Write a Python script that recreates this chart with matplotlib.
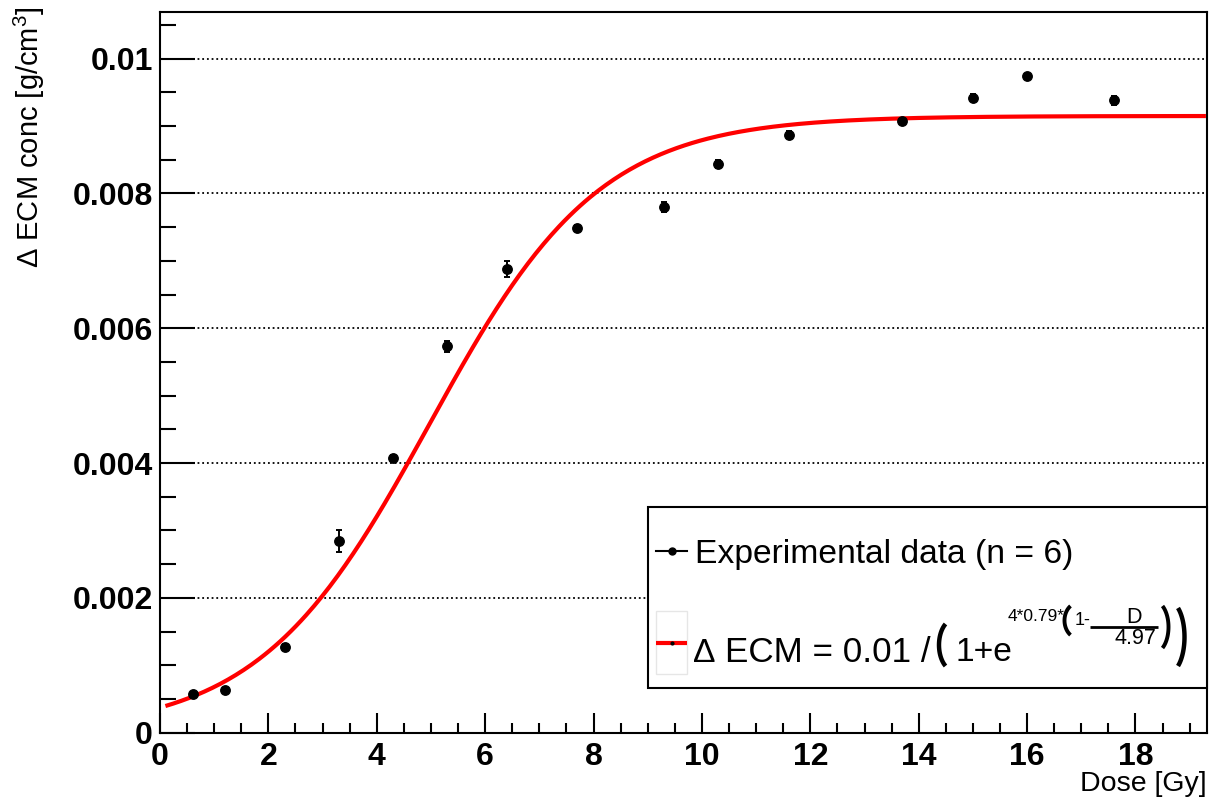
import numpy as np
import matplotlib
matplotlib.use("Agg")
import matplotlib.pyplot as plt
from matplotlib.lines import Line2D
from matplotlib.patches import Rectangle
from matplotlib.ticker import MultipleLocator

plt.rcParams["font.family"] = ["Liberation Sans", "DejaVu Sans"]
plt.rcParams["mathtext.fontset"] = "custom"
plt.rcParams["mathtext.rm"] = "Liberation Sans"
plt.rcParams["mathtext.it"] = "Liberation Sans"
plt.rcParams["mathtext.bf"] = "Liberation Sans:bold"

# Measured extracellular-matrix concentration change vs. dose
dose = [0.6, 1.2, 2.3, 3.3, 4.3, 5.3, 6.4, 7.7, 9.3, 10.3, 11.6, 13.7, 15.0, 16.0, 17.6]
ecm = [0.00057, 0.00063, 0.00127, 0.00284, 0.00407, 0.00573, 0.00688, 0.00749,
       0.00780, 0.00844, 0.00887, 0.00907, 0.00942, 0.00974, 0.00938]
ecm_err = [0.00003, 0.00003, 0.00004, 0.00016, 0.00005, 0.00008, 0.00012, 0.00004,
           0.00007, 0.00006, 0.00005, 0.00004, 0.00005, 0.00004, 0.00007]

# Logistic fit parameters
fit_amp = 0.00915
fit_slope = 0.79
fit_d50 = 4.97
fit_range = (0.1, 19.3)

x_ticks = [0, 2, 4, 6, 8, 10, 12, 14, 16, 18]
x_tick_labels = ["0", "2", "4", "6", "8", "10", "12", "14", "16", "18"]
y_ticks = [0, 0.002, 0.004, 0.006, 0.008, 0.01]
y_tick_labels = ["0", "0.002", "0.004", "0.006", "0.008", "0.01"]

data_label = "Experimental data (n = 6)"
fit_label_parts = ["\u0394", "ECM = 0.01 /", "1+e", "4*0.79*", "1-", "D", "4.97"]

W, H = 1213, 799
fig = plt.figure(figsize=(W / 100, H / 100), dpi=100)
fig.patch.set_facecolor("white")

ax_l, ax_r, ax_t, ax_b = 160, 1207, 11.5, 732.7
ax = fig.add_axes([ax_l / W, 1 - ax_b / H, (ax_r - ax_l) / W, (ax_b - ax_t) / H])
ax.set_xlim(0, 19.32)
ax.set_ylim(0, 0.0107)

# Fit curve
xf = np.linspace(fit_range[0], fit_range[1], 400)
yf = fit_amp / (1 + np.exp(4 * fit_slope * (1 - xf / fit_d50)))
ax.plot(xf, yf, color="#ff0000", lw=3, zorder=3, solid_capstyle="butt")

# Data with error bars
ax.errorbar(dose, ecm, yerr=ecm_err, fmt="o", color="black", ms=6.8,
            elinewidth=1.4, capsize=2.3, capthick=1.4, zorder=4)

# Axes styling
for sp in ax.spines.values():
    sp.set_linewidth(1.5)
ax.set_xticks(x_ticks, x_tick_labels, fontweight="bold", fontsize=23)
ax.set_yticks(y_ticks, y_tick_labels, fontweight="bold", fontsize=23)
ax.xaxis.set_minor_locator(MultipleLocator(0.5))
ax.yaxis.set_minor_locator(MultipleLocator(0.0005))
ax.tick_params(axis="x", which="major", direction="in", length=14.5, width=1.5, pad=7)
ax.tick_params(axis="x", which="minor", direction="in", length=7.2, width=1.5)
ax.tick_params(axis="y", which="major", direction="in", length=25, width=1.5, pad=5)
ax.tick_params(axis="y", which="minor", direction="in", length=11.5, width=1.5)
ax.set_axisbelow(True)
ax.yaxis.grid(True, which="major", color="black", lw=1.3, linestyle=(0, (1.0, 1.6)))

# Axis titles
fig.text(39 / W, 1 - 6 / H, "\u0394 ECM conc [g/cm$^{3}$]", rotation=90,
         rotation_mode="anchor", ha="right", va="baseline", fontsize=21)
fig.text(1207 / W, 1 - 791 / H, "Dose [Gy]", ha="right", va="baseline", fontsize=20.5)

# Legend, placed in figure pixel coordinates
tf = fig.transFigure


def fx(x):
    return x / W


def fy(y):
    return 1 - y / H


def ftext(x, y, s, size, **kw):
    return fig.text(fx(x), fy(y), s, fontsize=size, va="baseline", zorder=7, **kw)


def paren(x0, x1, y0, y1, left, lw):
    a = np.deg2rad(55)
    t = np.linspace(-a, a, 60)
    yc, h = (y0 + y1) / 2, (y1 - y0) / 2
    yy = yc + h * np.sin(t) / np.sin(a)
    bulge = (np.cos(t) - np.cos(a)) / (1 - np.cos(a))
    xx = x1 - (x1 - x0) * bulge if left else x0 + (x1 - x0) * bulge
    fig.add_artist(Line2D(fx(xx), fy(yy), transform=tf, color="black", lw=lw,
                          zorder=7, solid_capstyle="butt"))


fig.add_artist(Rectangle((fx(648), fy(688)), (1207 - 648) / W, (688 - 507) / H,
                         transform=tf, facecolor="white", edgecolor="black",
                         lw=1.5, zorder=5))
fig.add_artist(Line2D([fx(656), fx(687)], [fy(551), fy(551)], transform=tf,
                      color="black", lw=1.5, zorder=6))
fig.add_artist(Line2D([fx(671.5)], [fy(551)], transform=tf, marker="o", ms=5,
                      color="black", zorder=6))
fig.add_artist(Rectangle((fx(655.7), fy(674)), (687.3 - 655.7) / W, (674 - 610.7) / H,
                         transform=tf, facecolor="none", edgecolor="#e6e6e6",
                         lw=1.0, zorder=6))
fig.add_artist(Line2D([fx(656), fx(687)], [fy(642.7), fy(642.7)], transform=tf,
                      color="#ff0000", lw=3, zorder=6, solid_capstyle="butt"))
fig.add_artist(Line2D([fx(671.5)], [fy(642.7)], transform=tf, marker="o", ms=2,
                      color="black", zorder=7))

ftext(695, 562.5, data_label, 24.2)

# Fit formula: dE = A / (1 + e^(4*s*(1 - D/D50)))
ftext(693, 662, fit_label_parts[0], 24.2)
ftext(725, 662, fit_label_parts[1], 25.2)
paren(939, 945.5, 624, 666, True, 3.2)
ftext(955, 661, fit_label_parts[2], 24.2)
ftext(1008, 621, fit_label_parts[3], 12.5)
paren(1064.5, 1070.5, 606, 635, True, 2.8)
ftext(1075, 625, fit_label_parts[4], 13)
fig.add_artist(Line2D([fx(1090), fx(1158)], [fy(626.5), fy(626.5)], transform=tf,
                      color="black", lw=2.0, zorder=7, solid_capstyle="butt"))
ftext(1134, 623, fit_label_parts[5], 15.5, ha="center")
ftext(1135, 644, fit_label_parts[6], 15.5, ha="center")
paren(1162.5, 1168.5, 606, 648, False, 2.8)
paren(1178, 1184.5, 608, 666, False, 3.2)

fig.savefig("out.png", dpi=100)
